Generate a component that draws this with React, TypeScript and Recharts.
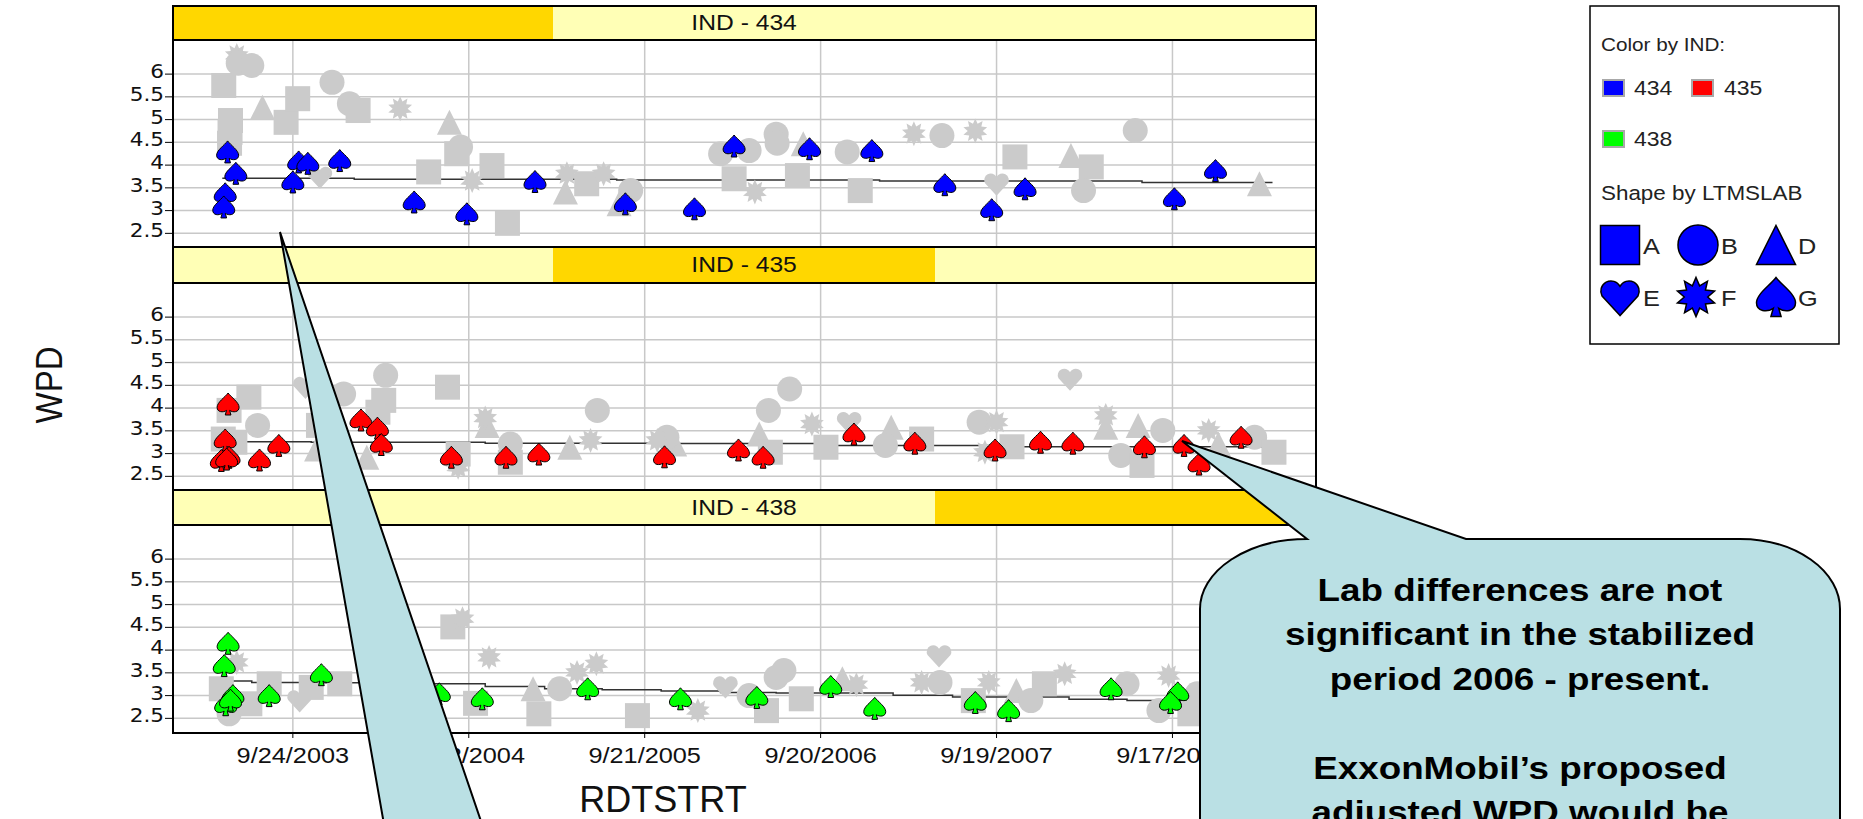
import React from "react";
import { ComposedChart, Scatter, Line, XAxis, YAxis, ReferenceLine } from "recharts";

// x range of the trellis and its tick dates
const startDate = "2003-01-19";
const endDate = "2009-07-11";
const dateTicks = ["2003-09-24", "2004-09-22", "2005-09-21", "2006-09-20", "2007-09-19", "2008-09-17"];
const wpdTicks = [2.5, 3, 3.5, 4, 4.5, 5, 5.5, 6];

// IND 434
const ind434Spades: [string, number][] = [
  ["2003-05-12", 4.29], ["2003-05-29", 3.82], ["2003-05-07", 3.37], ["2003-05-04", 3.08],
  ["2003-09-24", 3.63], ["2003-10-06", 4.07], ["2003-10-25", 4.04], ["2003-12-30", 4.1],
  ["2004-06-01", 3.19], ["2004-09-18", 2.93], ["2005-02-06", 3.64], ["2005-08-12", 3.15],
  ["2006-01-02", 3.04], ["2006-03-25", 4.42], ["2006-08-28", 4.36], ["2007-01-04", 4.32],
  ["2007-06-04", 3.57], ["2007-09-09", 3.02], ["2007-11-17", 3.48], ["2008-09-21", 3.26],
  ["2008-12-15", 3.88],
];
const ind434Others: [string, number, string][] = [
  ["2003-05-04", 5.75, "A"], ["2003-05-31", 6.41, "F"], ["2003-06-03", 6.24, "B"], ["2003-07-01", 6.19, "B"],
  ["2003-05-18", 4.98, "A"], ["2003-05-16", 4.48, "A"], ["2003-05-17", 4.72, "A"], ["2003-07-23", 5.27, "D"],
  ["2003-09-10", 4.94, "A"], ["2003-10-04", 5.46, "A"], ["2003-12-14", 5.82, "B"], ["2004-01-19", 5.35, "B"],
  ["2004-02-06", 5.2, "A"], ["2003-11-19", 3.74, "E"], ["2004-05-03", 5.24, "F"], ["2004-08-13", 4.94, "D"],
  ["2004-09-05", 4.4, "B"], ["2004-08-28", 4.25, "A"], ["2004-07-01", 3.85, "A"], ["2004-11-09", 3.99, "A"],
  ["2004-09-29", 3.66, "F"], ["2004-12-11", 2.72, "A"], ["2005-04-13", 3.81, "F"], ["2005-04-10", 3.41, "D"],
  ["2005-05-24", 3.59, "A"], ["2005-06-28", 3.81, "F"], ["2005-08-23", 3.44, "B"], ["2005-07-30", 3.15, "D"],
  ["2006-02-25", 4.25, "B"], ["2006-04-25", 4.32, "B"], ["2006-03-25", 3.7, "A"], ["2006-05-07", 3.41, "F"],
  ["2006-06-20", 4.68, "B"], ["2006-06-22", 4.48, "B"], ["2006-08-15", 4.47, "D"], ["2006-08-03", 3.77, "A"],
  ["2006-11-14", 4.29, "B"], ["2006-12-11", 3.44, "A"], ["2007-04-01", 4.69, "F"], ["2007-05-29", 4.65, "B"],
  ["2007-08-06", 4.75, "F"], ["2007-10-27", 4.18, "A"], ["2007-09-19", 3.59, "E"], ["2008-02-20", 4.21, "D"],
  ["2008-04-02", 3.96, "A"], ["2008-03-17", 3.44, "B"], ["2008-07-02", 4.76, "B"], ["2009-03-16", 3.59, "D"],
];
const ind434Trend: [string, number][] = [
  ["2003-05-01", 3.71], ["2004-01-29", 3.69], ["2005-07-25", 3.67], ["2007-01-20", 3.65],
  ["2008-07-16", 3.62], ["2009-04-12", 3.62],
];

// IND 435
const ind435Spades: [string, number][] = [
  ["2003-05-13", 4.09], ["2003-05-07", 3.3], ["2003-05-15", 2.92], ["2003-04-29", 2.85], ["2003-05-10", 2.88],
  ["2003-07-17", 2.86], ["2003-08-26", 3.18], ["2004-02-12", 3.74], ["2004-03-17", 3.56], ["2004-03-25", 3.2],
  ["2004-08-17", 2.92], ["2004-12-08", 2.92], ["2005-02-14", 2.99], ["2005-11-01", 2.93], ["2006-04-03", 3.08],
  ["2006-05-24", 2.92], ["2006-11-28", 3.43], ["2007-04-03", 3.23], ["2007-09-16", 3.08], ["2007-12-19", 3.25],
  ["2008-02-24", 3.23], ["2008-07-21", 3.15], ["2008-10-11", 3.18], ["2008-11-11", 2.77], ["2009-02-06", 3.36],
];
const ind435Others: [string, number, string][] = [
  ["2003-05-15", 3.95, "A"], ["2003-06-25", 4.24, "A"], ["2003-05-03", 3.32, "A"], ["2003-05-27", 3.25, "A"],
  ["2003-07-13", 3.62, "B"], ["2003-10-20", 4.46, "E"], ["2004-01-07", 4.31, "B"], ["2003-11-16", 3.62, "A"],
  ["2003-11-12", 3.1, "D"], ["2004-02-24", 2.92, "D"], ["2004-04-03", 4.72, "B"], ["2004-03-30", 4.17, "A"],
  ["2004-03-18", 3.91, "A"], ["2004-08-09", 4.46, "A"], ["2004-08-31", 2.99, "A"], ["2004-08-31", 2.7, "F"],
  ["2004-10-30", 3.62, "D"], ["2004-10-26", 3.78, "F"], ["2004-12-17", 3.21, "B"], ["2004-12-17", 2.81, "A"],
  ["2005-04-19", 3.14, "D"], ["2005-06-01", 3.29, "F"], ["2005-06-15", 3.95, "B"], ["2005-11-22", 3.21, "D"],
  ["2005-11-06", 3.36, "B"], ["2005-10-17", 3.29, "F"], ["2006-06-04", 3.95, "B"], ["2006-07-18", 4.42, "B"],
  ["2006-05-16", 3.43, "D"], ["2006-06-08", 3.03, "A"], ["2006-09-02", 3.65, "F"], ["2006-10-01", 3.14, "A"],
  ["2006-11-18", 3.69, "E"], ["2007-02-13", 3.58, "D"], ["2007-02-01", 3.18, "B"], ["2007-04-17", 3.32, "A"],
  ["2007-08-14", 3.69, "B"], ["2007-09-19", 3.69, "F"], ["2007-10-21", 3.15, "A"], ["2007-08-26", 3.03, "F"],
  ["2008-02-18", 4.64, "E"], ["2008-05-02", 3.84, "F"], ["2008-05-02", 3.58, "D"], ["2008-07-08", 3.62, "D"],
  ["2008-08-28", 3.51, "B"], ["2008-06-02", 2.96, "B"], ["2008-07-16", 2.74, "A"], ["2008-12-01", 3.51, "F"],
  ["2008-12-21", 3.21, "D"], ["2009-03-06", 3.36, "B"], ["2009-04-15", 3.03, "A"],
];
const ind435Trend: [string, number][] = [
  ["2003-05-01", 3.26], ["2003-11-01", 3.25], ["2004-10-26", 3.23], ["2005-10-25", 3.22],
  ["2006-10-19", 3.18], ["2007-10-19", 3.15], ["2009-04-12", 3.11],
];

// IND 438
const ind438Spades: [string, number][] = [
  ["2003-05-13", 4.15], ["2003-05-05", 3.66], ["2003-05-23", 3.0], ["2003-05-08", 2.8], ["2003-05-18", 2.9],
  ["2003-08-06", 3.0], ["2003-11-22", 3.46], ["2004-07-23", 3.04], ["2004-10-20", 2.93], ["2005-05-26", 3.15],
  ["2005-12-04", 2.93], ["2006-05-11", 2.96], ["2006-10-11", 3.2], ["2007-01-10", 2.72], ["2007-08-06", 2.85],
  ["2007-10-14", 2.67], ["2008-05-13", 3.15], ["2008-09-28", 3.06], ["2008-09-13", 2.85],
];
const ind438Others: [string, number, string][] = [
  ["2003-04-29", 3.15, "A"], ["2003-05-15", 2.6, "B"], ["2003-05-31", 3.73, "F"], ["2003-06-27", 2.82, "A"],
  ["2003-08-06", 3.26, "A"], ["2003-10-08", 2.89, "E"], ["2003-11-01", 3.18, "A"], ["2003-12-30", 3.26, "A"],
  ["2004-08-20", 4.51, "A"], ["2004-09-09", 4.69, "F"], ["2004-11-03", 3.84, "F"], ["2004-10-06", 2.83, "A"],
  ["2005-02-02", 3.15, "D"], ["2005-02-14", 2.6, "A"], ["2005-03-29", 3.15, "B"], ["2005-05-04", 3.51, "F"],
  ["2005-06-13", 3.7, "F"], ["2005-09-06", 2.56, "A"], ["2006-01-09", 2.67, "F"], ["2006-03-07", 3.2, "E"],
  ["2006-04-25", 3.0, "B"], ["2006-05-31", 2.67, "A"], ["2006-06-20", 3.4, "B"], ["2006-07-06", 3.55, "B"],
  ["2006-08-11", 2.93, "A"], ["2006-11-04", 3.37, "D"], ["2006-12-03", 3.24, "F"], ["2007-05-23", 3.88, "E"],
  ["2007-04-17", 3.29, "F"], ["2007-05-25", 3.29, "B"], ["2007-08-02", 2.89, "A"], ["2007-09-03", 3.29, "F"],
  ["2007-10-30", 3.11, "D"], ["2007-11-29", 2.89, "B"], ["2007-12-27", 3.26, "A"], ["2008-02-07", 3.48, "F"],
  ["2008-06-15", 3.26, "B"], ["2008-09-09", 3.44, "F"], ["2008-08-20", 2.67, "B"], ["2008-10-23", 2.6, "A"],
  ["2008-11-07", 3.04, "B"],
];
const ind438Trend: [string, number][] = [
  ["2003-05-01", 3.32], ["2003-07-01", 3.29], ["2003-10-24", 3.28], ["2004-02-12", 3.26], ["2004-10-26", 3.2],
  ["2005-02-26", 3.15], ["2005-06-25", 3.13], ["2005-10-25", 3.1], ["2006-02-25", 3.07], ["2006-06-20", 3.06],
  ["2007-02-17", 3.01], ["2007-06-20", 2.97], ["2008-02-16", 2.92], ["2008-06-15", 2.89], ["2009-04-12", 2.85],
];

const FONT = "'Liberation Sans', Arial, sans-serif";
const GRAY = "#cbcbcb";
const GOLD = "#ffd700";
const PALE = "#ffffb6";
const BUBBLE = "#bae0e4";

const dayNum = (s: string) => Date.parse(s + "T00:00:00Z") / 86400000;
const fmtDate = (d: number) => {
  const t = new Date(Math.round(d) * 86400000);
  return `${t.getUTCMonth() + 1}/${t.getUTCDate()}/${t.getUTCFullYear()}`;
};
const tickDays = dateTicks.map(dayNum);

const toPts = (rows: [string, number][]) => rows.map(([d, v]) => ({ x: dayNum(d), y: v }));
const toLabPts = (rows: [string, number, string][]) => rows.map(([d, v, lab]) => ({ x: dayNum(d), y: v, lab }));

// marker outlines, centred on 0,0
const heartPath = (s: number) => {
  const k = s / 2;
  return `M0,${0.95 * k} L${-0.92 * k},${-0.05 * k} A${0.5 * k},${0.5 * k} 0 0 1 0,${-0.55 * k} A${0.5 * k},${0.5 * k} 0 0 1 ${0.92 * k},${-0.05 * k} Z`;
};
const starPoints = (s: number) => {
  const pts: string[] = [];
  for (let i = 0; i < 20; i++) {
    const r = i % 2 === 0 ? s / 2 : s * 0.3;
    const a = (Math.PI * i) / 10 - Math.PI / 2;
    pts.push(`${(r * Math.cos(a)).toFixed(2)},${(r * Math.sin(a)).toFixed(2)}`);
  }
  return pts.join(" ");
};
const spadePath = (s: number) => {
  const k = s / 2;
  return `M0,${-k} C${0.3 * k},${-0.6 * k} ${k},${-0.15 * k} ${k},${0.3 * k} C${k},${0.75 * k} ${0.45 * k},${0.8 * k} ${0.14 * k},${0.58 * k} L${0.26 * k},${k} L${-0.26 * k},${k} L${-0.14 * k},${0.58 * k} C${-0.45 * k},${0.8 * k} ${-k},${0.75 * k} ${-k},${0.3 * k} C${-k},${-0.15 * k} ${-0.3 * k},${-0.6 * k} 0,${-k} Z`;
};

function Glyph({ lab, cx, cy, s, fill, stroke, sw }: { lab: string; cx: number; cy: number; s: number; fill: string; stroke?: string; sw?: number }) {
  const h = s / 2;
  let el: React.ReactNode;
  if (lab === "A") el = <rect x={-h} y={-h} width={s} height={s} />;
  else if (lab === "B") el = <circle r={h} />;
  else if (lab === "D") el = <polygon points={`0,${-h} ${h},${h} ${-h},${h}`} />;
  else if (lab === "E") el = <path d={heartPath(s)} />;
  else if (lab === "F") el = <polygon points={starPoints(s)} />;
  else el = <path d={spadePath(s)} />;
  return (
    <g transform={`translate(${cx},${cy})`} fill={fill} stroke={stroke || "none"} strokeWidth={sw || 0}>
      {el}
    </g>
  );
}

const YTick = (p: any) => (
  <text
    x={p.x + 1}
    y={p.y}
    dy={4}
    textAnchor="end"
    fontFamily="'DejaVu Sans', sans-serif"
    fontSize={20}
    fill="#111"
    transform={`translate(${p.x + 1} 0) scale(1.08 1) translate(${-(p.x + 1)} 0)`}
  >
    {p.payload.value}
  </text>
);

const XTick = (p: any) => (
  <text
    x={p.x}
    y={p.y}
    dy={23}
    textAnchor="middle"
    fontFamily={FONT}
    fontSize={22}
    fill="#111"
    transform={`translate(${p.x} 0) scale(1.15 1) translate(${-p.x} 0)`}
  >
    {fmtDate(p.payload.value)}
  </text>
);

function Panel({ top, spades, others, trend, color, showX }: any) {
  const plotH = 207;
  return (
    <div style={{ position: "absolute", left: 0, top }}>
      <ComposedChart width={1316} height={plotH + (showX ? 70 : 0)} margin={{ top: 0, right: 0, bottom: 0, left: 0 }}>
        <XAxis
          type="number"
          dataKey="x"
          domain={[dayNum(startDate), dayNum(endDate)]}
          allowDataOverflow
          ticks={tickDays}
          interval={0}
          hide={!showX}
          height={70}
          axisLine={false}
          tickSize={6}
          tickLine={{ stroke: "#000" }}
          tick={<XTick />}
        />
        <YAxis
          type="number"
          dataKey="y"
          domain={[2.2, 6.75]}
          allowDataOverflow
          ticks={wpdTicks}
          interval={0}
          width={173}
          axisLine={false}
          tickSize={8}
          tickLine={{ stroke: "#000" }}
          tick={<YTick />}
        />
        {wpdTicks.map((v) => (
          <ReferenceLine key={"h" + v} y={v} stroke="#c8c8c8" strokeWidth={1.5} />
        ))}
        {tickDays.map((d) => (
          <ReferenceLine key={"v" + d} x={d} stroke="#c8c8c8" strokeWidth={1.5} />
        ))}
        <Scatter
          data={toLabPts(others)}
          isAnimationActive={false}
          shape={(p: any) => <Glyph lab={p.payload.lab} cx={p.cx} cy={p.cy} s={25} fill={GRAY} />}
        />
        <Line
          data={toPts(trend)}
          dataKey="y"
          type="stepAfter"
          stroke="#333"
          strokeWidth={1.5}
          dot={false}
          activeDot={false}
          isAnimationActive={false}
        />
        <Scatter
          data={toPts(spades)}
          isAnimationActive={false}
          shape={(p: any) => <Glyph lab="G" cx={p.cx} cy={p.cy} s={22} fill={color} stroke="#000" sw={1} />}
        />
      </ComposedChart>
    </div>
  );
}

function Header({ top, height, goldFrom, goldTo, label }: any) {
  return (
    <div
      style={{
        position: "absolute",
        left: 172,
        top,
        width: 1145,
        height,
        boxSizing: "border-box",
        border: "2px solid #000",
        background: PALE,
        overflow: "hidden",
      }}
    >
      <div style={{ position: "absolute", left: goldFrom - 174, width: goldTo - goldFrom, top: 0, bottom: 0, background: GOLD }} />
      <div
        style={{
          position: "absolute",
          left: 0,
          right: 0,
          top: 0,
          bottom: 0,
          display: "flex",
          alignItems: "center",
          justifyContent: "center",
          fontFamily: FONT,
          fontSize: 22,
          color: "#111",
        }}
      >
        <span style={{ display: "inline-block", transform: "scaleX(1.12)" }}>{label}</span>
      </div>
    </div>
  );
}

const calloutLines = [
  "Lab differences are not",
  "significant in the stabilized",
  "period 2006 - present.",
  "",
  "ExxonMobil\u2019s proposed",
  "adjusted WPD would be",
];

// legend text, stretched a little wider like the source
function LText({ x, y, size, children }: any) {
  return (
    <text
      x={x}
      y={y}
      fontFamily={FONT}
      fontSize={size}
      fill="#222"
      transform={`translate(${x} 0) scale(1.15 1) translate(${-x} 0)`}
    >
      {children}
    </text>
  );
}

export default function App() {
  return (
    <div style={{ position: "absolute", left: 0, top: 0, width: 1863, height: 819, background: "#fff", overflow: "hidden" }}>
      <Panel top={40} spades={ind434Spades} others={ind434Others} trend={ind434Trend} color="#0000ff" />
      <Panel top={283} spades={ind435Spades} others={ind435Others} trend={ind435Trend} color="#ff0000" />
      <Panel top={525} spades={ind438Spades} others={ind438Others} trend={ind438Trend} color="#00ff00" showX />

      <div style={{ position: "absolute", left: 172, top: 5, width: 1145, height: 729, boxSizing: "border-box", border: "2px solid #000", pointerEvents: "none" }} />
      <Header top={5} height={36} goldFrom={174} goldTo={553} label="IND - 434" />
      <Header top={246} height={38} goldFrom={553} goldTo={935} label="IND - 435" />
      <Header top={489} height={37} goldFrom={935} goldTo={1317} label="IND - 438" />

      <div
        style={{
          position: "absolute",
          left: 50,
          top: 385,
          fontFamily: FONT,
          fontSize: 33,
          color: "#111",
          transform: "translate(-50%, -50%) scaleX(1.1) rotate(-90deg)",
          whiteSpace: "nowrap",
        }}
      >
        WPD
      </div>
      <div
        style={{
          position: "absolute",
          left: 663,
          top: 800,
          fontFamily: FONT,
          fontSize: 36,
          color: "#111",
          transform: "translate(-50%, -50%)",
          whiteSpace: "nowrap",
        }}
      >
        RDTSTRT
      </div>

      <svg width={1863} height={819} style={{ position: "absolute", left: 0, top: 0, pointerEvents: "none" }}>
        {/* legend */}
        <rect x={1590} y={6} width={249} height={338} fill="#fff" stroke="#000" strokeWidth={1.5} />
        <LText x={1601} y={51} size={18}>Color by IND:</LText>
        <rect x={1603} y={80} width={21} height={16} fill="#0000ff" stroke="#a8a8a8" strokeWidth={2} />
        <LText x={1634} y={95} size={20}>434</LText>
        <rect x={1692} y={80} width={21} height={16} fill="#ff0000" stroke="#a8a8a8" strokeWidth={2} />
        <LText x={1724} y={95} size={20}>435</LText>
        <rect x={1603} y={131} width={21} height={16} fill="#00ff00" stroke="#a8a8a8" strokeWidth={2} />
        <LText x={1634} y={146} size={20}>438</LText>
        <LText x={1601} y={200} size={19.5}>Shape by LTMSLAB</LText>
        {[
          ["A", 1620, 245, 1643],
          ["B", 1698, 245, 1721],
          ["D", 1776, 245, 1798],
          ["E", 1620, 297, 1643],
          ["F", 1696, 297, 1721],
          ["G", 1776, 297, 1798],
        ].map(([lab, cx, cy, tx]: any) => (
          <g key={lab}>
            <Glyph lab={lab} cx={cx} cy={cy} s={lab === "B" ? 40 : 39} fill="#0000ff" stroke="#000" sw={1.5} />
            <LText x={tx} y={cy + 9} size={22}>{lab}</LText>
          </g>
        ))}

        {/* left callout tail */}
        <polygon points="280,232 484,830 385,830" fill={BUBBLE} stroke="#000" strokeWidth={2} />

        {/* right callout */}
        <path
          d="M1182,441 L1466,539 L1740,539 A100,70 0 0 1 1840,609 L1840,830 L1200,830 L1200,609 A107,70 0 0 1 1307,539 Z"
          fill={BUBBLE}
          stroke="#000"
          strokeWidth={2}
        />
        {calloutLines.map((t, i) => (
          <text
            key={i}
            x={1520}
            y={601 + i * 44.5}
            textAnchor="middle"
            fontFamily={FONT}
            fontWeight="bold"
            fontSize={32}
            fill="#000"
            transform="translate(1520 0) scale(1.15 1) translate(-1520 0)"
          >
            {t}
          </text>
        ))}
      </svg>
    </div>
  );
}
